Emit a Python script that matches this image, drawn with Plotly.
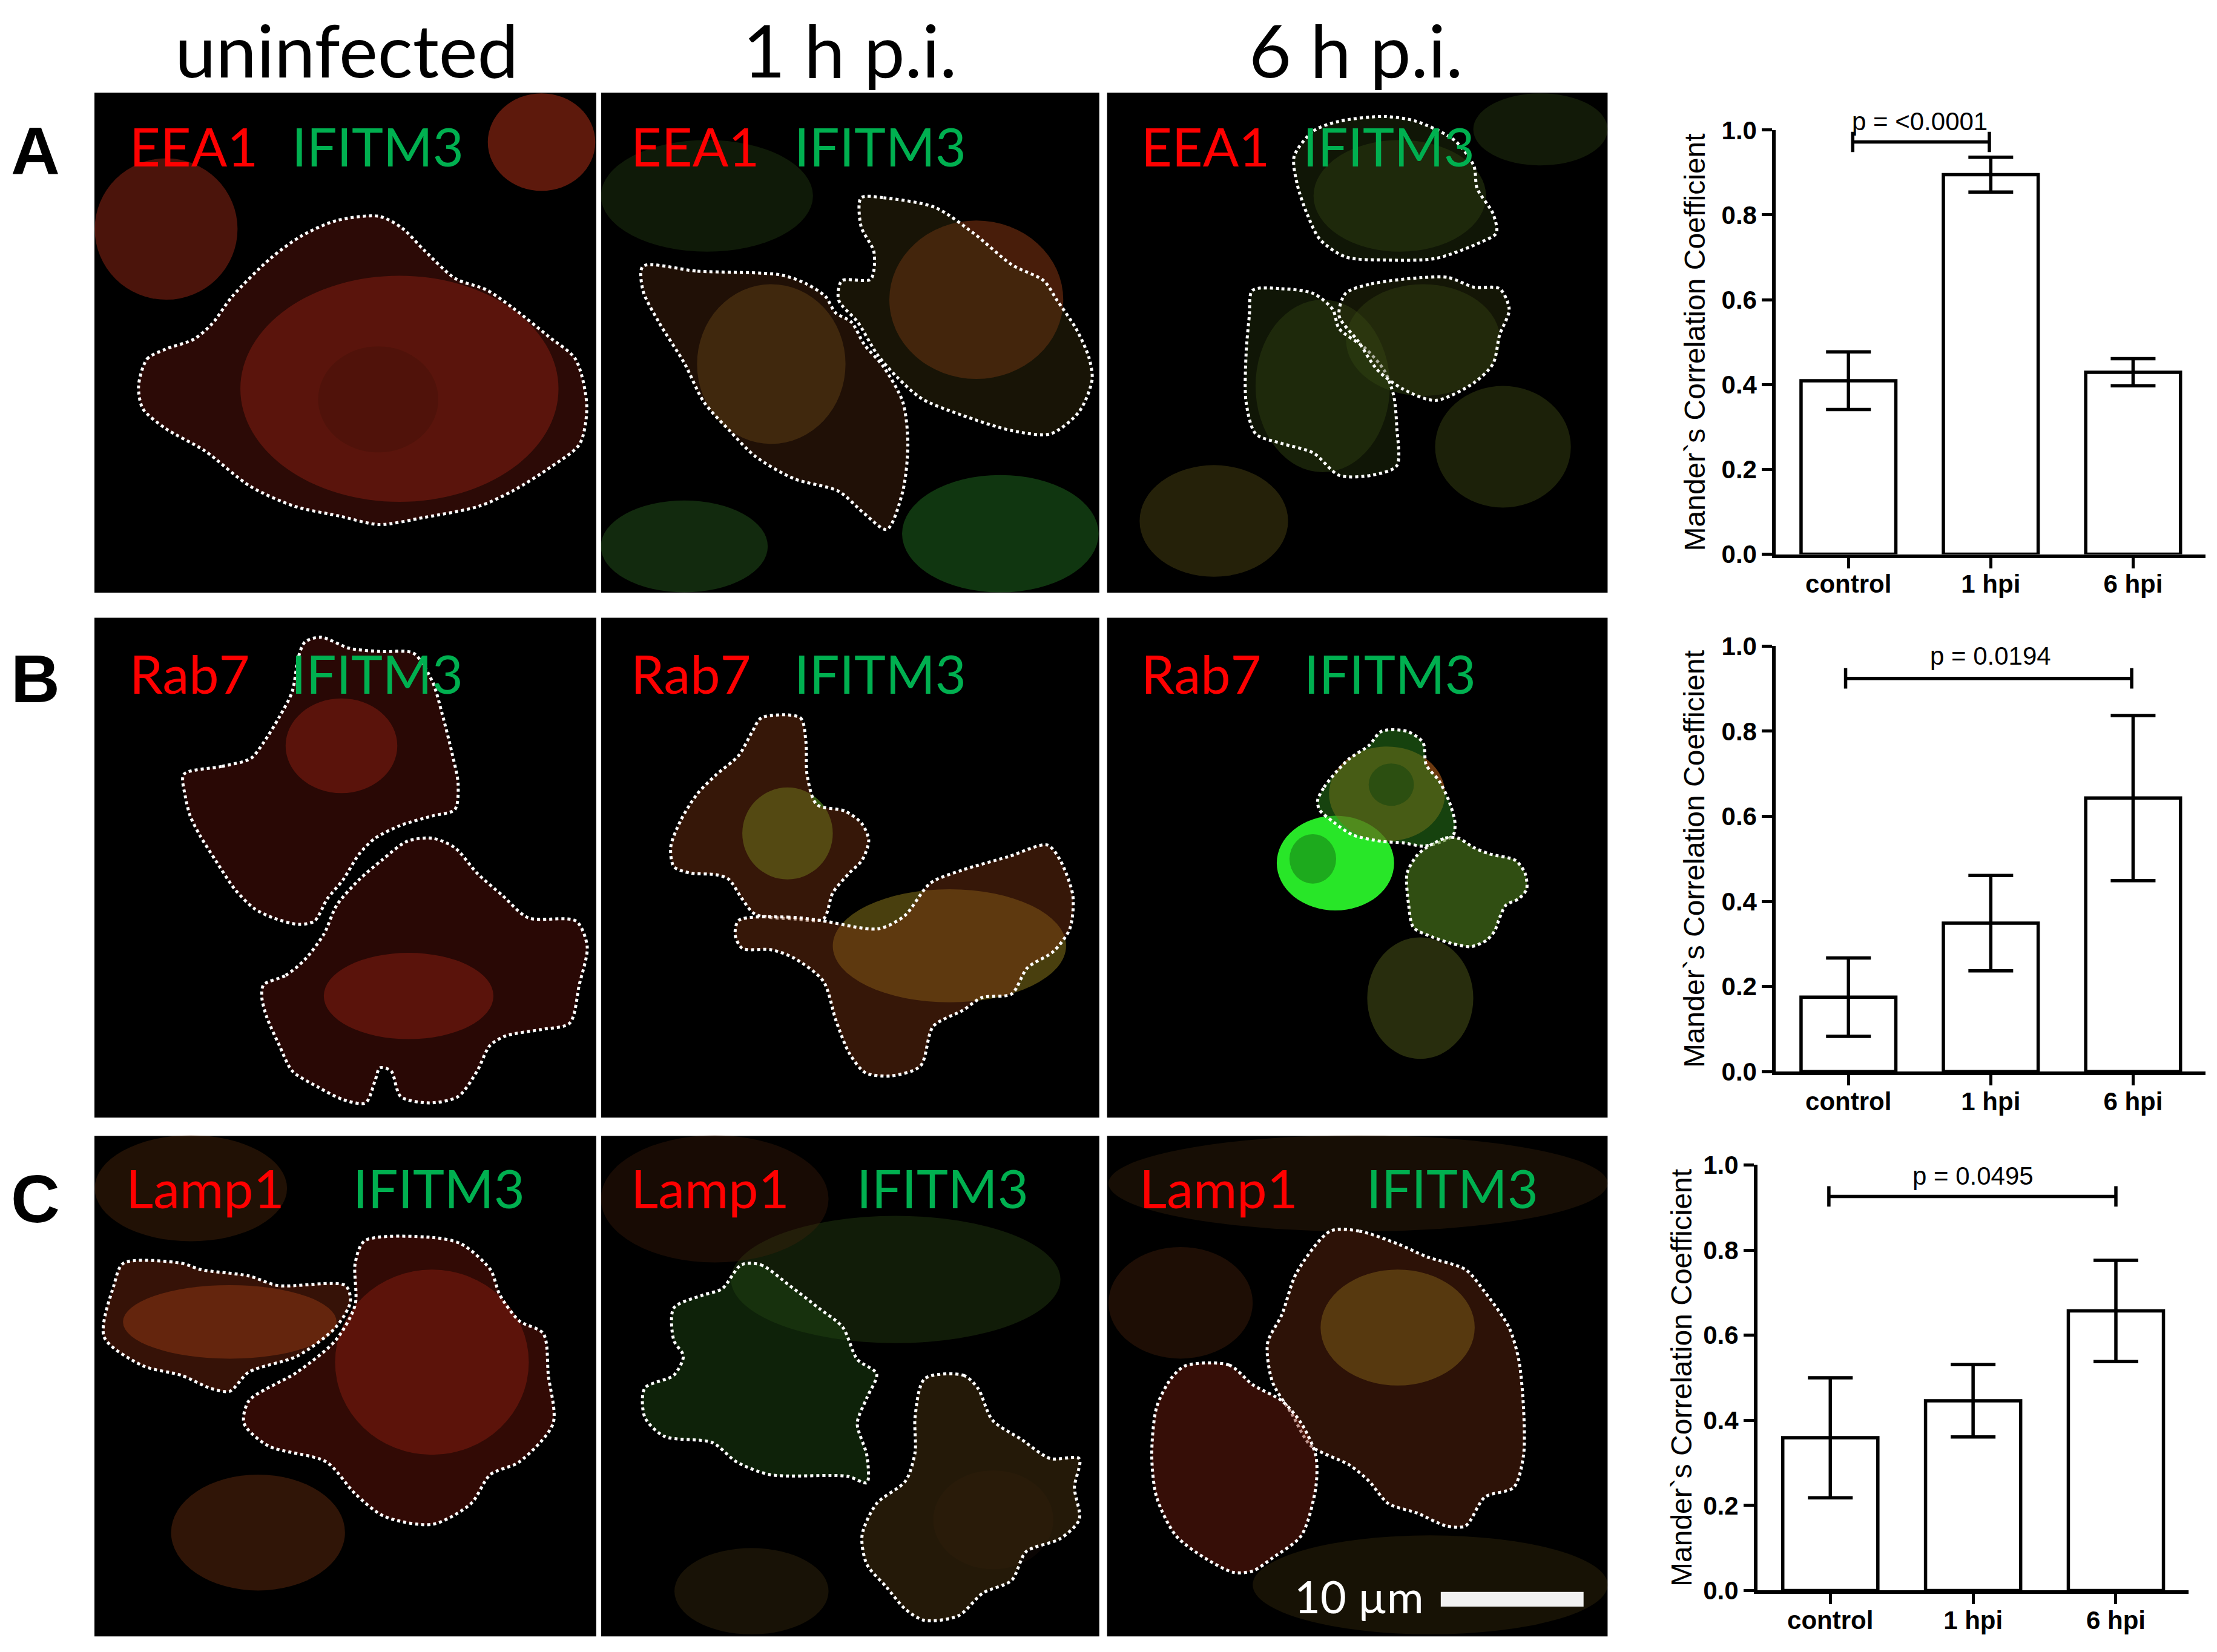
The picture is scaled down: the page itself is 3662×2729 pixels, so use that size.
import plotly.graph_objects as go

# ---------------------------------------------------------------------------
# Data (Mander's correlation coefficient, mean +/- SEM)
# ---------------------------------------------------------------------------
groups = ["control", "1 hpi", "6 hpi"]
eea1_mean = [0.409, 0.895, 0.429]
eea1_err = [0.068, 0.041, 0.032]
rab7_mean = [0.175, 0.349, 0.643]
rab7_err = [0.092, 0.112, 0.194]
lamp1_mean = [0.359, 0.446, 0.657]
lamp1_err = [0.141, 0.085, 0.119]
p_labels = ["p = &lt;0.0001", "p = 0.0194", "p = 0.0495"]

col_titles = ["uninfected", "1 h p.i.", "6 h p.i."]
row_letters = ["A", "B", "C"]
markers = ["EEA1", "Rab7", "Lamp1"]
partner = "IFITM3"
scale_label = "10 µm"

# ---------------------------------------------------------------------------
# Layout geometry (in 1568 x 1168.5 "sheet" units, y downwards)
# ---------------------------------------------------------------------------
W, H = 3662, 2729
SW, SH = 1568.0, 1168.5
PAGE_PAD = 8  # default body margin of the html page, in px
OFFX, OFFY = PAGE_PAD * SW / W, PAGE_PAD * SH / H
RED, GREEN = "#ff0000", "#00b050"


def paper_x(xd):
    return xd / SW - PAGE_PAD / W


def paper_y(yd):
    return 1 - yd / SH + PAGE_PAD / H


panel_cols = [(66.8, 421.7), (425.2, 777.5), (783.0, 1137.0)]
panel_rows = [(65.5, 419.2), (437.0, 790.5), (803.5, 1157.5)]

# cell outlines (dotted) with the tint of the cell they enclose
outlines = [
    # A1
    ([(98, 273), (104, 254), (117, 247), (137, 240), (150, 229), (164, 210), (191, 183), (213, 167),
      (238, 156), (268, 153), (284, 161), (300, 177), (322, 197), (344, 205), (363, 218), (388, 238),
      (407, 254), (415, 287), (410, 314), (390, 330), (363, 347), (339, 358), (300, 366), (268, 371),
      (240, 365), (208, 358), (177, 344), (145, 319), (117, 303), (101, 289)], "rgba(110,25,15,0.40)"),
    # A2 left
    ([(454.7, 188.4), (493.3, 191.8), (552.3, 194.5), (570.4, 200.8), (584, 209.9), (590.8, 221.1),
      (602.2, 227.9), (611.3, 243.7), (624.9, 259.5), (638.5, 284.3), (642.1, 313.6), (638.5, 347.5),
      (627.2, 374.5), (611.3, 363.3), (593.1, 347.5), (561.3, 338.5), (534.1, 322.7), (516, 304.6),
      (497.8, 284.3), (484.2, 257.2), (466, 227.9), (454.7, 205.4)], "rgba(80,40,15,0.40)"),
    # A2 right
    ([(609, 139.9), (624.9, 139.9), (661.2, 146.7), (688.4, 164.8), (715.7, 187.3), (738.3, 198.6),
      (747.4, 212.1), (761, 232.4), (770.1, 252.7), (772.4, 268.5), (763.3, 291.1), (742.9, 306.9),
      (715.7, 304.6), (679.3, 293.3), (652.1, 282.1), (634, 266.3), (620.3, 250.5), (606.7, 227.9),
      (593.1, 212.1), (595.4, 198.6), (615.8, 197.5), (618.1, 178.3), (609, 160.2)], "rgba(60,50,15,0.40)"),
    # A3 top
    ([(915.3, 110.6), (929, 92.6), (947.1, 85.8), (978.9, 82.4), (1001.6, 85.8), (1028.8, 99.3),
      (1042.4, 117.4), (1044.7, 133.2), (1056, 151.2), (1058.3, 164.8), (1046.9, 171.5), (1015.2, 182.8),
      (978.9, 183.9), (951.6, 181.7), (933.5, 169.3), (924.4, 151.2), (917.6, 130.9)], "rgba(40,55,15,0.40)"),
    # A3 left
    ([(885.8, 205.4), (906.3, 204.2), (928.9, 207.6), (942.6, 218.9), (947.1, 232.4), (965.2, 246),
      (978.9, 261.8), (985.7, 279.8), (987.9, 302.4), (987.9, 329.4), (969.8, 336.2), (947.1, 336.2),
      (928.9, 320.4), (906.3, 313.6), (888.1, 306.9), (881.3, 284.3), (881.3, 250.5), (883.6, 223.4)],
     "rgba(40,55,15,0.40)"),
    # A3 right
    ([(951.6, 207.6), (969.8, 200.8), (1006.1, 196.3), (1024.3, 196.3), (1042.4, 203.1), (1060.6, 204.2),
      (1067.4, 218.9), (1060.6, 236.9), (1056, 257.2), (1042.4, 270.8), (1015.2, 283.2), (992.5, 275.3),
      (974.3, 261.8), (960.7, 241.5), (947.1, 223.4)], "rgba(50,55,15,0.40)"),
    # B1 top
    ([(130, 547.7), (157, 542.1), (177.3, 536.5), (186.4, 525.2), (197.6, 507.1), (206.7, 489.1),
      (211.2, 464.3), (215.7, 454.1), (227, 450.7), (247.3, 458.6), (269.8, 460.9), (292.4, 462),
      (305.9, 482.3), (312.7, 504.9), (319.5, 531.9), (324, 554.5), (321.7, 572.6), (305.9, 577.1),
      (283.4, 583.8), (265.3, 592.9), (254, 604.1), (242.7, 622.2), (231.5, 635.7), (222.4, 651.5),
      (211.2, 653.8), (193.1, 649.2), (179.6, 642.5), (166.1, 629), (152.5, 608.6), (141.2, 590.6),
      (134.5, 577.1), (131.1, 563.5)], "rgba(90,18,10,0.45)"),
    # B1 bottom
    ([(186.4, 696.6), (202.1, 689.9), (215.7, 678.6), (229.2, 660.5), (238.2, 640.2), (254, 622.2),
      (269.8, 608.6), (287.9, 595.1), (305.9, 592.9), (321.7, 599.6), (337.5, 617.7), (355.5, 633.5),
      (373.6, 649.2), (407.4, 651.5), (415.3, 669.5), (409.7, 696.6), (402.9, 723.7), (382.6, 728.2),
      (357.8, 732.7), (346.5, 739.5), (337.5, 757.5), (324, 775.6), (303.7, 780.1), (283.4, 775.6),
      (276.6, 757.5), (268.7, 755.3), (265.3, 764.3), (258.5, 780.1), (242.7, 777.8), (224.7, 768.8),
      (206.7, 757.5), (197.6, 739.5), (188.6, 719.2), (185.2, 705.6)], "rgba(90,18,10,0.45)"),
    # B2 top
    ([(538.6, 507.7), (566, 507.7), (570, 525), (570.8, 548), (577.6, 569), (598, 573.8), (609.7, 582.8),
      (614.4, 594.4), (609.7, 608.4), (600.7, 617.5), (589, 631.5), (582.3, 650), (561.8, 650),
      (534, 646.6), (525, 636), (515.5, 622), (506.5, 618.7), (488, 617.5), (476.6, 613), (474.4, 599),
      (481.3, 580.6), (492.8, 562), (506.5, 548), (522.4, 534.4), (531.8, 518)], "rgba(120,50,18,0.45)"),
    # B2 bottom
    ([(522.5, 651), (557, 648.7), (580, 651), (621, 657), (639.7, 647.8), (658, 624.7), (681, 615.3),
      (713, 606), (740.7, 597.7), (749.8, 608.4), (758.8, 633.7), (756.6, 657), (745, 673), (726.6, 684.6),
      (715.5, 703), (694.5, 705.6), (681, 714.6), (660, 726), (651, 754), (630, 761), (612, 758.7),
      (600.7, 745), (591.3, 722), (582.3, 694), (561.8, 677.8), (545.5, 671.8), (525, 670.8), (520, 661.5)],
     "rgba(120,50,18,0.45)"),
    # B3 top
    ([(932, 565.8), (936.5, 556.8), (945.5, 545.5), (954.5, 536.5), (968.1, 527.4), (977.1, 517.3),
      (995.1, 517.3), (1006.4, 525.2), (1008.7, 541), (1017.7, 552.2), (1024.5, 565.8), (1029, 581.6),
      (1027.9, 590.6), (1020, 595.1), (1006.4, 598.5), (992.9, 596.2), (977.1, 595.1), (956.8, 590.6),
      (943.3, 581.6), (933.1, 572.6)], "rgba(40,120,25,0.55)"),
    # B3 right
    ([(1008.7, 599.6), (1022.2, 592.8), (1031.2, 592.8), (1042.5, 599.6), (1053.8, 604.1), (1071.8, 608.6),
      (1078.6, 617.7), (1079.7, 628.9), (1074.1, 635.7), (1065.1, 640.2), (1060.6, 649.2), (1057.2, 658.3),
      (1051.5, 665), (1040.3, 669.6), (1026.7, 667.3), (1013.2, 662.8), (999.7, 656), (996.3, 640.2),
      (995.2, 617.7), (1002, 605.3)], "rgba(80,130,30,0.60)"),
    # C1 left
    ([(87.3, 893.5), (128.3, 893.5), (141.9, 898), (176, 902.5), (196.5, 909.3), (244.3, 909.3),
      (247.8, 920.7), (237.5, 938.8), (210.2, 959.2), (176, 970.5), (162.4, 984.1), (148.7, 981.9),
      (128.3, 972.8), (101, 966), (73.6, 945.6), (80.5, 909.3)], "rgba(120,40,15,0.45)"),
    # C1 right
    ([(258, 877.6), (305.8, 875.3), (326.3, 879.9), (346.8, 898), (353.6, 916.1), (367.3, 934.3),
      (384.3, 943.3), (387.8, 972.8), (391.2, 1006.8), (367.3, 1034), (346.8, 1043), (333.1, 1063.5),
      (305.8, 1078.2), (271.7, 1072.5), (251.2, 1056.6), (230.7, 1034), (189.7, 1022.7), (172.6, 1006.8),
      (176, 990.9), (210.2, 970.5), (237.5, 947.9), (251.2, 922.9), (251.2, 893.5)], "rgba(110,22,12,0.45)"),
    # C2 left
    ([(524.3, 894.6), (538, 894.6), (558.5, 909.3), (579, 925.2), (596, 938.8), (606.3, 961.5),
      (620, 971.7), (613.1, 988.7), (606.3, 1006.8), (613.1, 1029.5), (613.1, 1048.7), (599.4, 1044.2),
      (544.8, 1043.1), (520.9, 1034), (503.8, 1020.4), (469.7, 1015.9), (456, 1002.3), (456, 981.9),
      (476.5, 972.8), (483.3, 959.2), (476.5, 947.9), (476.5, 925.2), (497, 916.1), (510.7, 911.6)],
     "rgba(30,75,20,0.45)"),
    # C2 right
    ([(654.1, 975.1), (681.4, 972.8), (691.6, 981.9), (701.9, 1004.5), (722.4, 1018.1), (742.9, 1031.7),
      (763.3, 1031.7), (759.9, 1052.1), (763.3, 1074.8), (749.7, 1088.4), (725.8, 1097.5), (715.5, 1117.8),
      (695, 1126.9), (678, 1142.8), (654.1, 1146.2), (640.4, 1138.3), (626.8, 1122.4), (613.1, 1106.5),
      (609.7, 1086.1), (620, 1063.5), (640.4, 1047.6), (647.2, 1027.2), (647.2, 1002.3)],
     "rgba(80,55,18,0.45)"),
    # C3 big
    ([(940.9, 870.8), (961.4, 870.8), (988.7, 879.9), (1009.2, 889), (1036.5, 898), (1050.2, 913.9),
      (1067.2, 938.8), (1074.1, 961.5), (1077.5, 995.5), (1077.5, 1029.5), (1070.6, 1052.1),
      (1050.2, 1058.9), (1036.5, 1079.3), (1022.8, 1079.3), (1002.3, 1070.2), (981.9, 1063.5),
      (968.2, 1047.6), (954.5, 1036.3), (927.2, 1022.7), (913.6, 1000), (899.9, 977.3), (896.5, 950.1),
      (906.7, 929.7), (917, 900.3)], "rgba(100,40,16,0.45)"),
    # C3 left
    ([(838.5, 966), (869.2, 965.5), (886.2, 979.6), (906.7, 990.9), (920.4, 1006.8), (930.6, 1029.5),
      (930.6, 1052.1), (920.4, 1086.1), (899.9, 1102), (886.2, 1111.1), (872.6, 1112.2), (852.1, 1102),
      (831.6, 1086.1), (818, 1058.9), (814.6, 1029.5), (818, 995.5), (828.2, 975.1)], "rgba(120,32,16,0.45)"),
]

# soft stain blobs (x0, y0, x1, y1, colour)
blobs = [
    (67, 112, 168, 212, "rgba(150,40,22,0.50)"), (345, 66, 421, 135, "rgba(170,45,22,0.55)"),
    (170, 195, 395, 355, "rgba(170,40,22,0.45)"), (225, 245, 310, 320, "rgba(40,10,5,0.45)"),
    (425, 99, 575, 178, "rgba(50,85,25,0.30)"), (493, 201, 598, 314, "rgba(120,90,28,0.45)"),
    (629, 156, 752, 268, "rgba(160,65,22,0.45)"), (425, 354, 543, 419, "rgba(45,105,35,0.40)"),
    (638, 336, 777, 419, "rgba(35,120,35,0.45)"),
    (1042, 66, 1137, 117, "rgba(60,85,25,0.30)"), (929, 99, 1051, 178, "rgba(70,95,25,0.35)"),
    (888, 212, 983, 334, "rgba(70,95,25,0.35)"), (952, 201, 1061, 280, "rgba(70,95,25,0.35)"),
    (806, 329, 911, 408, "rgba(105,95,25,0.35)"), (1015, 273, 1111, 359, "rgba(80,95,25,0.35)"),
    (202, 494, 281, 561, "rgba(180,40,22,0.50)"), (229, 674, 349, 735, "rgba(180,40,22,0.50)"),
    (525, 557, 589, 622, "rgba(100,165,35,0.55)"), (589, 629, 754, 709, "rgba(145,125,28,0.50)"),
    (903, 577, 986, 644, "rgba(40,230,40,1.0)"), (912, 590, 945, 625, "rgba(20,120,20,0.55)"),
    (940, 528, 1022, 595, "rgba(200,105,30,0.55)"), (968, 540, 1000, 570, "rgba(30,20,5,0.75)"),
    (967, 663, 1042, 749, "rgba(80,90,25,0.50)"),
    (67, 803, 203, 878, "rgba(110,55,18,0.30)"), (87, 909, 238, 961, "rgba(170,72,22,0.50)"),
    (237, 898, 374, 1029, "rgba(170,40,22,0.45)"), (121, 1043, 244, 1125, "rgba(120,52,18,0.40)"),
    (517, 860, 750, 950, "rgba(50,80,22,0.35)"), (477, 1095, 586, 1156, "rgba(70,52,18,0.35)"),
    (425, 803, 586, 893, "rgba(80,36,14,0.30)"), (660, 1040, 745, 1110, "rgba(20,10,5,0.50)"),
    (934, 898, 1043, 980, "rgba(170,160,35,0.45)"), (784, 882, 886, 961, "rgba(100,45,18,0.30)"),
    (784, 803, 1137, 871, "rgba(90,55,18,0.25)"), (886, 1086, 1137, 1156, "rgba(90,72,18,0.25)"),
]

fig = go.Figure()

# ---------------------------------------------------------------------------
# Bar charts
# ---------------------------------------------------------------------------
chart_data = [(eea1_mean, eea1_err), (rab7_mean, rab7_err), (lamp1_mean, lamp1_err)]
chart_x = [(1256, 1560), (1256, 1560), (1243, 1548)]
chart_y = [(92, 392), (457, 758), (824, 1125)]
bracket_x = [(0.03, 0.99), (-0.02, 1.99), (-0.01, 2.0)]
bracket_y = [0.972, 0.924, 0.926]
label_xy = [(0.5, 1.021), (1.0, 0.977), (1.0, 0.975)]
ytitle_x = [1198.6, 1198.6, 1189.5]
XR = (-0.51, 2.51)

AX_FONT = "Liberation Sans"
for i, (mean, err) in enumerate(chart_data):
    sfx = "" if i == 0 else str(i + 1)
    xa, ya = "x" + sfx, "y" + sfx
    xdom = [paper_x(chart_x[i][0]), paper_x(chart_x[i][1])]
    ydom = [paper_y(chart_y[i][1]), paper_y(chart_y[i][0])]
    fig.add_trace(go.Bar(
        x=[0, 1, 2], y=mean, width=0.666, xaxis=xa, yaxis=ya,
        marker=dict(color="white", line=dict(color="black", width=5.5)),
        error_y=dict(type="data", array=err, visible=True, color="black", thickness=5.5, width=37),
        hoverinfo="skip",
    ))
    bx0, bx1 = bracket_x[i]
    by = bracket_y[i]
    fig.add_trace(go.Scatter(
        x=[bx0, bx0, None, bx0, bx1, None, bx1, bx1],
        y=[by - 0.024, by + 0.024, None, by, by, None, by - 0.024, by + 0.024],
        mode="lines", line=dict(color="black", width=5.5), xaxis=xa, yaxis=ya,
        cliponaxis=False, hoverinfo="skip",
    ))
    axis_style = dict(showline=True, linecolor="black", linewidth=6, ticks="outside", ticklen=17,
                      tickwidth=5, tickcolor="black", showgrid=False, zeroline=False, automargin=False,
                      tickfont=dict(family=AX_FONT, size=42, color="black", weight="bold"))
    fig.update_layout({
        "xaxis" + sfx: dict(domain=xdom, range=list(XR), ticklabelstandoff=-10,
                            tickvals=[0, 1, 2], ticktext=groups, anchor=ya, **axis_style),
        "yaxis" + sfx: dict(domain=ydom, range=[0, 1],
                            tickvals=[0, 0.2, 0.4, 0.6, 0.8, 1.0], tickformat=".1f", anchor=xa,
                            **axis_style),
    })
    # p-value label placed in paper space (it sits just above the y range)
    lx, ly = label_xy[i]
    px = xdom[0] + (lx - XR[0]) / (XR[1] - XR[0]) * (xdom[1] - xdom[0])
    py = ydom[0] + ly * (ydom[1] - ydom[0])
    fig.add_annotation(x=px, y=py, xref="paper", yref="paper", text=p_labels[i],
                       showarrow=False, xanchor="center", yanchor="middle",
                       font=dict(family=AX_FONT, size=42, color="black"))
    fig.add_annotation(x=paper_x(ytitle_x[i]), y=(ydom[0] + ydom[1]) / 2,
                       xref="paper", yref="paper", text="Mander`s Correlation Coefficient",
                       textangle=-90, showarrow=False, xanchor="center", yanchor="middle",
                       font=dict(family=AX_FONT, size=48, color="black"))

# ---------------------------------------------------------------------------
# Micrograph panels on a full-sheet overlay axis
# ---------------------------------------------------------------------------
shapes = []
for (y0, y1) in panel_rows:
    for (x0, x1) in panel_cols:
        shapes.append(dict(type="rect", xref="x4", yref="y4", x0=x0, x1=x1, y0=y0, y1=y1,
                           fillcolor="black", line=dict(width=0), layer="below"))
for (x0, y0, x1, y1, c) in blobs:
    shapes.append(dict(type="circle", xref="x4", yref="y4", x0=x0, x1=x1, y0=y0, y1=y1,
                       fillcolor=c, line=dict(width=0), layer="below"))
# scale bar
shapes.append(dict(type="rect", xref="x4", yref="y4", x0=1019, x1=1120, y0=1126, y1=1136.4,
                   fillcolor="#f2f2f2", line=dict(width=0)))

for pts, fillc in outlines:
    xs = [p[0] for p in pts] + [pts[0][0]]
    ys = [p[1] for p in pts] + [pts[0][1]]
    fig.add_trace(go.Scatter(x=xs, y=ys, xaxis="x4", yaxis="y4", mode="lines", fill="toself",
                             fillcolor=fillc,
                             line=dict(color="white", width=5, dash="dot", shape="spline", smoothing=0.8),
                             hoverinfo="skip"))

fig.update_layout(
    xaxis4=dict(domain=[0, 1], range=[OFFX, SW + OFFX], visible=False, anchor="y4", automargin=False),
    yaxis4=dict(domain=[0, 1], range=[SH + OFFY, OFFY], visible=False, anchor="x4", automargin=False),
    shapes=shapes,
)

PANEL_FONT = "Lato"
for cx, t in zip([245, 601, 959], col_titles):
    fig.add_annotation(x=cx, y=35, xref="x4", yref="y4", text=t, showarrow=False,
                       xanchor="center", yanchor="middle",
                       font=dict(family=PANEL_FONT, size=121, color="black"))
for cy, t in zip([107, 480, 848], row_letters):
    fig.add_annotation(x=25, y=cy, xref="x4", yref="y4", text=t, showarrow=False,
                       xanchor="center", yanchor="middle",
                       font=dict(family=AX_FONT, size=112, color="black", weight="bold"))

label_rows_y = [103, 476, 840]
marker_x = [[96.9, 451.5, 812.3], [96.8, 451.4, 812.4], [94.1, 451.3, 811.1]]
partner_x = [[211.6, 566.8, 926.7], [211.2, 567.1, 927.5], [254.6, 611.1, 971.6]]
for r in range(3):
    for c in range(3):
        fig.add_annotation(x=marker_x[r][c] - 6, y=label_rows_y[r], xref="x4", yref="y4",
                           text=markers[r], showarrow=False, xanchor="left", yanchor="middle",
                           font=dict(family=PANEL_FONT, size=88, color=RED))
        fig.add_annotation(x=partner_x[r][c] - 6, y=label_rows_y[r], xref="x4", yref="y4",
                           text=partner, showarrow=False, xanchor="left", yanchor="middle",
                           font=dict(family=PANEL_FONT, size=88, color=GREEN))
fig.add_annotation(x=1008, y=1129, xref="x4", yref="y4", text=scale_label, showarrow=False,
                   xanchor="right", yanchor="middle",
                   font=dict(family=PANEL_FONT, size=74, color="white"))

fig.update_layout(
    template="none",
    width=W, height=H, margin=dict(l=0, r=0, t=0, b=0, pad=0, autoexpand=False),
    paper_bgcolor="white", plot_bgcolor="rgba(0,0,0,0)",
    showlegend=False, hovermode=False,
)

fig.write_html("out.html")
